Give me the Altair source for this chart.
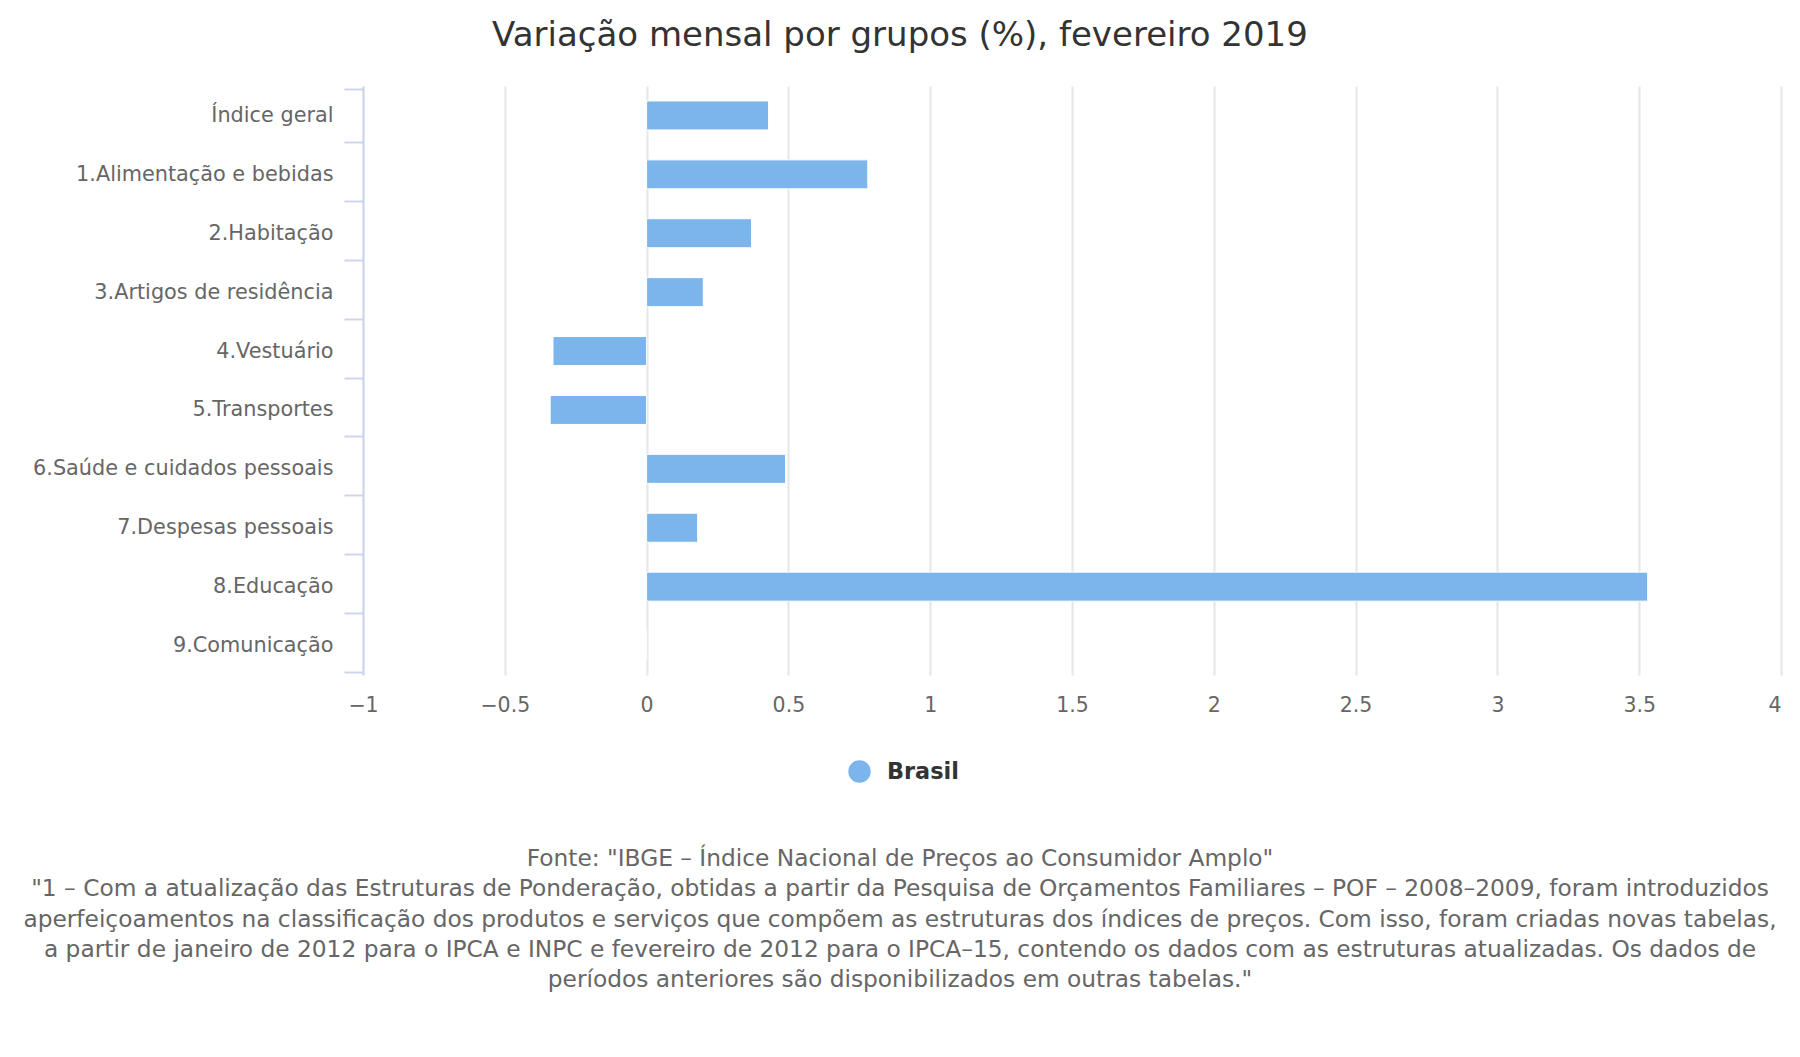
import altair as alt
import pandas as pd

categorias = [
    "Índice geral",
    "1.Alimentação e bebidas",
    "2.Habitação",
    "3.Artigos de residência",
    "4.Vestuário",
    "5.Transportes",
    "6.Saúde e cuidados pessoais",
    "7.Despesas pessoais",
    "8.Educação",
    "9.Comunicação",
]
valores = [0.43, 0.78, 0.37, 0.20, -0.33, -0.34, 0.49, 0.18, 3.53, 0.00]
serie = "Brasil"
x_ticks = [-1, -0.5, 0, 0.5, 1, 1.5, 2, 2.5, 3, 3.5, 4]

titulo = "Variação mensal por grupos (%), fevereiro 2019"
rodape = [
    'Fonte: "IBGE – Índice Nacional de Preços ao Consumidor Amplo"',
    '"1 – Com a atualização das Estruturas de Ponderação, obtidas a partir da Pesquisa de Orçamentos Familiares – POF – 2008–2009, foram introduzidos',
    'aperfeiçoamentos na classificação dos produtos e serviços que compõem as estruturas dos índices de preços. Com isso, foram criadas novas tabelas,',
    'a partir de janeiro de 2012 para o IPCA e INPC e fevereiro de 2012 para o IPCA–15, contendo os dados com as estruturas atualizadas. Os dados de',
    'períodos anteriores são disponibilizados em outras tabelas."',
]

FONT = "DejaVu Sans"
W, H = 1418, 589
CENTER_X = 900 - 363

df = pd.DataFrame({"grupo": categorias, "valor": valores, "serie": [serie] * len(categorias)})

bars = alt.Chart(df).mark_bar(size=29, stroke="white", strokeWidth=1).encode(
    y=alt.Y(
        "grupo:N",
        sort=None,
        title=None,
        axis=alt.Axis(
            labelFont=FONT,
            labelFontSize=20.8,
            labelColor="#666666",
            labelLimit=0,
            domainColor="#ccd6eb",
            domainWidth=2,
            tickColor="#ccd6eb",
            tickWidth=2,
            tickSize=19,
            tickBand="extent",
            labelPadding=11,
            grid=False,
        ),
    ),
    x=alt.X(
        "valor:Q",
        title=None,
        scale=alt.Scale(domain=[-1, 4], nice=False, zero=False),
        axis=alt.Axis(
            values=x_ticks,
            format="~g",
            labelFont=FONT,
            labelFontSize=20.5,
            labelColor="#666666",
            labelFlush=False,
            labelAlign={"expr": "datum.value == 4 ? 'right' : 'center'"},
            domain=False,
            ticks=False,
            tickSize=0,
            labelPadding=20,
            grid=True,
            gridColor="#e6e6e6",
            gridWidth=2,
        ),
    ),
    color=alt.Color(
        "serie:N",
        scale=alt.Scale(range=["#7cb5ec"]),
        legend=alt.Legend(
            title=None,
            orient="none",
            legendX=485,
            legendY=674,
            symbolType="circle",
            symbolSize=500,
            symbolStrokeWidth=0,
            labelFont=FONT,
            labelFontSize=22.4,
            labelFontWeight="bold",
            labelColor="#333333",
            labelOffset=16,
            padding=0,
        ),
    ),
)

title_layer = alt.Chart(pd.DataFrame({"t": [titulo]})).mark_text(
    font=FONT, fontSize=34, color="#333333", align="center", baseline="middle"
).encode(text="t:N", x=alt.value(CENTER_X), y=alt.value(-50))

footer_layer = alt.Chart(pd.DataFrame({"k": [0]})).mark_text(
    font=FONT, fontSize=23.3, color="#666666", align="center", baseline="top", lineHeight=30.3
).encode(text=alt.value(rodape), x=alt.value(CENTER_X), y=alt.value(762))

chart = alt.layer(bars, title_layer, footer_layer).properties(
    width=W,
    height=H,
    autosize=alt.AutoSizeParams(type="none"),
    padding={"left": 355, "top": 78, "right": 11, "bottom": 330},
).configure_view(stroke=None)

chart.save("out.html", embed_options={"renderer": "svg", "actions": False})
